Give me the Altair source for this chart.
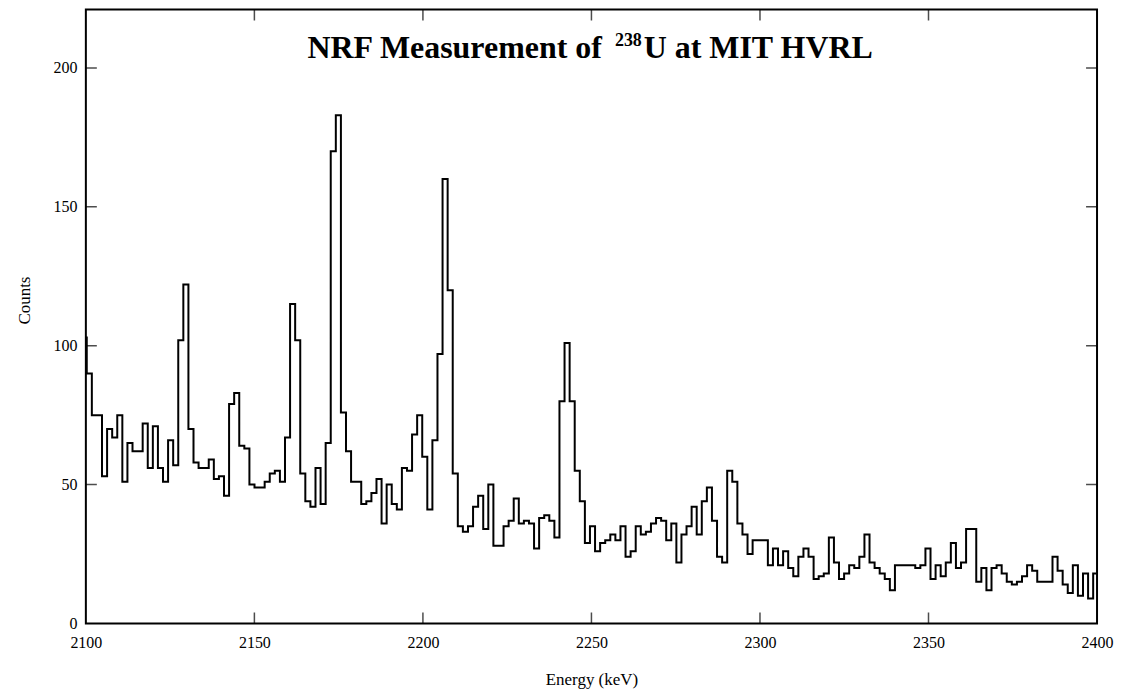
import altair as alt
import pandas as pd

# ---- data ----
# histogram counts, one value per bin (bin width ~1.508 keV, first bin starts just left of 2100)
COUNTS = [
    103, 90, 75, 75, 53, 70, 67, 75, 51, 65,
    62, 62, 72, 56, 71, 56, 51, 66, 57, 102,
    122, 70, 58, 56, 56, 59, 52, 53, 46, 79,
    83, 64, 63, 50, 49, 49, 51, 54, 55, 51,
    67, 115, 102, 54, 44, 42, 56, 43, 65, 170,
    183, 76, 62, 51, 51, 43, 44, 47, 52, 36,
    50, 43, 41, 56, 55, 68, 75, 60, 41, 66,
    97, 160, 120, 54, 35, 33, 35, 42, 46, 34,
    50, 28, 28, 35, 37, 45, 36, 37, 36, 27,
    38, 39, 37, 31, 80, 101, 80, 55, 44, 29,
    35, 26, 29, 30, 32, 30, 35, 24, 26, 35,
    32, 33, 36, 38, 37, 30, 36, 22, 32, 35,
    42, 32, 44, 49, 37, 24, 22, 55, 51, 36,
    32, 25, 30, 30, 30, 21, 27, 21, 26, 20,
    17, 24, 27, 24, 16, 17, 18, 31, 22, 16,
    18, 21, 20, 24, 32, 22, 20, 18, 16, 12,
    21, 21, 21, 21, 20, 21, 27, 16, 21, 17,
    22, 29, 20, 22, 34, 34, 15, 20, 12, 20,
    21, 18, 15, 14, 15, 17, 21, 19, 15, 15,
    15, 24, 19, 14, 11, 21, 10, 18, 9, 18,
]
BIN_START = 2098.76
BIN_WIDTH = 1.508

X_LABELS = [2100, 2150, 2200, 2250, 2300, 2350, 2400]
Y_LABELS = [0, 50, 100, 150, 200]
X_TICKS = [2150, 2200, 2250, 2300, 2350]
Y_TICKS = [50, 100, 150, 200]
TITLE_PARTS = ["NRF Measurement of", "238", "U at MIT HVRL"]
X_TITLE = "Energy (keV)"
Y_TITLE = "Counts"

# ---- build the step table ----
edges = [BIN_START + BIN_WIDTH * i for i in range(len(COUNTS) + 1)]
df = pd.DataFrame({"energy": edges, "counts": COUNTS + [COUNTS[-1]]})

W, H = 1013, 615
FONT = "Liberation Serif"

xs = alt.Scale(domain=[2100, 2400], nice=False, zero=False)
ys = alt.Scale(domain=[0, 221], nice=False, zero=False)

X_AXIS = alt.Axis(
    values=X_LABELS, format="d", ticks=False, tickSize=0, domain=False, grid=False,
    labelFont=FONT, labelFontSize=16, labelColor="black", labelPadding=11,
    labelFlush=False, labelOverlap=False,
    title=X_TITLE, titleFont=FONT, titleFontSize=17, titleFontWeight="normal",
    titleColor="black", titleX=W / 2, titleY=56, titleAlign="center",
    titleBaseline="middle")
Y_AXIS = alt.Axis(
    values=Y_LABELS, format="d", ticks=False, tickSize=0, domain=False, grid=False,
    labelFont=FONT, labelFontSize=16, labelColor="black", labelPadding=9,
    labelOverlap=False,
    title=Y_TITLE, titleFont=FONT, titleFontSize=17, titleFontWeight="normal",
    titleColor="black", titleAngle=270, titleX=-61, titleY=291,
    titleAlign="center", titleBaseline="middle")

line = alt.Chart(df).mark_line(
    interpolate="step-after", color="black", strokeWidth=2, clip=True, strokeJoin="miter"
).encode(
    x=alt.X("energy:Q", scale=xs, axis=X_AXIS),
    y=alt.Y("counts:Q", scale=ys, axis=Y_AXIS),
)

xt = pd.DataFrame({"energy": X_TICKS})
yt = pd.DataFrame({"counts": Y_TICKS})

tick_kw = dict(color="black", clip=True, thickness=1.5, size=22)
bottom_ticks = alt.Chart(xt).mark_tick(orient="vertical", **tick_kw).encode(
    x=alt.X("energy:Q", scale=xs, axis=X_AXIS), y=alt.value(H))
top_ticks = alt.Chart(xt).mark_tick(orient="vertical", **tick_kw).encode(
    x=alt.X("energy:Q", scale=xs, axis=X_AXIS), y=alt.value(0))
left_ticks = alt.Chart(yt).mark_tick(orient="horizontal", **tick_kw).encode(
    y=alt.Y("counts:Q", scale=ys, axis=Y_AXIS), x=alt.value(0))
right_ticks = alt.Chart(yt).mark_tick(orient="horizontal", **tick_kw).encode(
    y=alt.Y("counts:Q", scale=ys, axis=Y_AXIS), x=alt.value(W))

MAIN = 32
SUP = 18
x0 = 222
x_sup = x0 + 9.625 * MAIN
x_rest = x_sup + 0.9 * MAIN
title_a = alt.Chart(pd.DataFrame({"t": [TITLE_PARTS[0]]})).mark_text(
    font=FONT, fontSize=MAIN, fontWeight="bold", align="left", baseline="alphabetic",
    color="black").encode(x=alt.value(x0), y=alt.value(48), text="t:N")
title_b = alt.Chart(pd.DataFrame({"t": [TITLE_PARTS[1]]})).mark_text(
    font=FONT, fontSize=SUP, fontWeight="bold", align="left", baseline="alphabetic",
    color="black").encode(x=alt.value(x_sup), y=alt.value(36), text="t:N")
title_c = alt.Chart(pd.DataFrame({"t": [TITLE_PARTS[2]]})).mark_text(
    font=FONT, fontSize=MAIN, fontWeight="bold", align="left", baseline="alphabetic",
    color="black").encode(x=alt.value(x_rest), y=alt.value(48), text="t:N")

chart = alt.layer(
    line, bottom_ticks, top_ticks, left_ticks, right_ticks, title_a, title_b, title_c
).properties(
    width=W, height=H,
    padding={"left": 78, "top": 1, "right": 18, "bottom": 70},
    autosize=alt.AutoSizeParams(type="none"),
    background="white",
).configure_view(stroke="black", strokeWidth=2)

chart.save("out.html", embed_options={"renderer": "svg", "actions": False})
